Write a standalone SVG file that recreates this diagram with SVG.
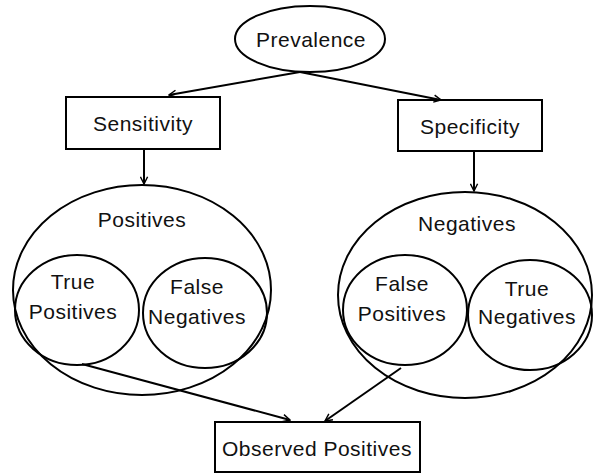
<svg xmlns="http://www.w3.org/2000/svg" width="594" height="474" viewBox="0 0 594 474">
<style>
.s{fill:none;stroke:#000;stroke-width:2}
.b{fill:#fff;stroke:#000;stroke-width:2}
.t{font-family:"Liberation Sans",Arial,sans-serif;font-size:21px;letter-spacing:0.5px;fill:#111;text-anchor:middle}
.c{fill:none;stroke:#000;stroke-width:2}
</style>
<defs>
<marker id="a" viewBox="0 0 10 10" refX="9" refY="5" markerWidth="9" markerHeight="9" markerUnits="userSpaceOnUse" orient="auto">
<path d="M1,1 L9,5 L1,9" fill="none" stroke="#000" stroke-width="1.6"/>
</marker>
</defs>
<g id="prevalence"><ellipse class="b" cx="310" cy="39" rx="75" ry="33"/><text class="t" x="311" y="47">Prevalence</text></g>
<g id="sensitivity"><rect class="b" x="66" y="97" width="154" height="52"/><text class="t" x="143" y="131">Sensitivity</text></g>
<g id="specificity"><rect class="b" x="398" y="100" width="144" height="51"/><text class="t" x="470" y="134">Specificity</text></g>
<g id="positives"><ellipse class="s" cx="142" cy="290" rx="129" ry="105"/><text class="t" x="142" y="227">Positives</text></g>
<g id="true-positives"><ellipse class="s" cx="77" cy="310" rx="62" ry="55"/><text class="t" x="73" y="289">True</text><text class="t" x="73" y="319">Positives</text></g>
<g id="false-negatives"><ellipse class="s" cx="205" cy="313" rx="62" ry="55"/><text class="t" x="197" y="294">False</text><text class="t" x="197" y="324">Negatives</text></g>
<g id="negatives"><ellipse class="s" cx="465" cy="295" rx="127" ry="103"/><text class="t" x="467" y="231">Negatives</text></g>
<g id="false-positives"><ellipse class="s" cx="405" cy="310" rx="62" ry="55"/><text class="t" x="402" y="291">False</text><text class="t" x="402" y="321">Positives</text></g>
<g id="true-negatives"><ellipse class="s" cx="530" cy="315" rx="62" ry="55"/><text class="t" x="527" y="296">True</text><text class="t" x="527" y="324">Negatives</text></g>
<g id="observed-positives"><rect class="b" x="215" y="422" width="205" height="50"/><text class="t" x="317" y="456">Observed Positives</text></g>
<g id="connectors">
<line class="c" x1="300" y1="72" x2="169" y2="95" marker-end="url(#a)"/>
<line class="c" x1="300" y1="72" x2="441" y2="100" marker-end="url(#a)"/>
<line class="c" x1="144" y1="149" x2="144" y2="184" marker-end="url(#a)"/>
<line class="c" x1="474" y1="151" x2="474" y2="191" marker-end="url(#a)"/>
<line class="c" x1="82" y1="364" x2="290" y2="420" marker-end="url(#a)"/>
<line class="c" x1="401" y1="368" x2="325" y2="421" marker-end="url(#a)"/>
</g>
</svg>
